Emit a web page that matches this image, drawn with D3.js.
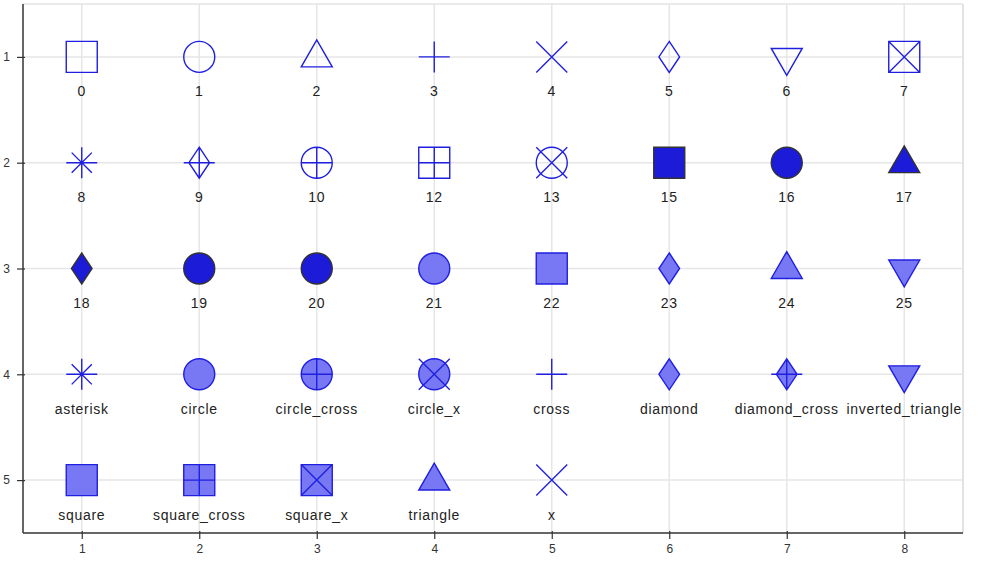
<!DOCTYPE html>
<html>
<head>
<meta charset="utf-8">
<script src="https://cdn.jsdelivr.net/npm/d3@7/dist/d3.min.js"></script>
<style>
  html, body { margin: 0; padding: 0; background: #fff; }
  svg { display: block; }
  text { font-family: "Liberation Sans", Arial, sans-serif; }
</style>
</head>
<body>
<svg id="chart" width="1000" height="562"></svg>
<script>
// ---- data ----
const labels = ["0","1","2","3","4","5","6","7",
                "8","9","10","12","13","15","16","17",
                "18","19","20","21","22","23","24","25",
                "asterisk","circle","circle_cross","circle_x","cross","diamond","diamond_cross","inverted_triangle",
                "square","square_cross","square_x","triangle","x"];
const shapes = ["square","circle","triangle","cross","x","diamond","inverted_triangle","square_x",
                "asterisk","diamond_cross","circle_cross","square_cross","circle_x","square","circle","triangle",
                "diamond","circle","circle","circle","square","diamond","triangle","inverted_triangle",
                "asterisk","circle","circle_cross","circle_x","cross","diamond","diamond_cross","inverted_triangle",
                "square","square_cross","square_x","triangle","x"];
const groups = ["open","open","open","open","open","open","open","open",
                "open","open","open","open","open","solid","solid","solid",
                "solid","solid","solid","filled","filled","filled","filled","filled",
                "filled","filled","filled","filled","filled","filled","filled","filled",
                "filled","filled","filled","filled","filled"];
const xValues = [1,2,3,4,5,6,7,8, 1,2,3,4,5,6,7,8, 1,2,3,4,5,6,7,8, 1,2,3,4,5,6,7,8, 1,2,3,4,5];
const yValues = [1,1,1,1,1,1,1,1, 2,2,2,2,2,2,2,2, 3,3,3,3,3,3,3,3, 4,4,4,4,4,4,4,4, 5,5,5,5,5];
const xTicks = [1,2,3,4,5,6,7,8];
const yTicks = [1,2,3,4,5];

// ---- styles ----
const style = {
  open:   {fill: "none",    stroke: "#1f1fe0"},
  solid:  {fill: "#1b1bd8", stroke: "#333333"},
  filled: {fill: "#7878f5", stroke: "#1f1fe0"}
};
const R = 15.5;

const svg = d3.select("#chart");
const x = d3.scaleLinear().domain([0.5, 8.5]).range([23, 963]);
const y = d3.scaleLinear().domain([0.5, 5.5]).range([4, 533]);

// grid
const grid = svg.append("g");
grid.selectAll("line.gx").data(xTicks).join("line")
  .attr("x1", d => x(d)).attr("x2", d => x(d))
  .attr("y1", y.range()[0]).attr("y2", y.range()[1])
  .attr("stroke", "#e6e6e6").attr("stroke-width", 1.5);
grid.selectAll("line.gy").data(yTicks).join("line")
  .attr("y1", d => y(d)).attr("y2", d => y(d))
  .attr("x1", x.range()[0]).attr("x2", x.range()[1])
  .attr("stroke", "#e6e6e6").attr("stroke-width", 1.5);
// top and right border
grid.append("line").attr("x1", x.range()[0]).attr("x2", x.range()[1])
  .attr("y1", y.range()[0]).attr("y2", y.range()[0])
  .attr("stroke", "#e3e3e3").attr("stroke-width", 1.5);
grid.append("line").attr("x1", x.range()[1]).attr("x2", x.range()[1])
  .attr("y1", y.range()[0]).attr("y2", y.range()[1])
  .attr("stroke", "#e3e3e3").attr("stroke-width", 2);

// axes
const xAxis = svg.append("g").attr("transform", `translate(0,${y.range()[1]})`)
  .call(d3.axisBottom(x).tickValues(xTicks).tickFormat(d3.format("d")).tickSize(6).tickPadding(5).tickSizeOuter(0));
xAxis.selectAll(".tick line").attr("y1", -2).attr("y2", 6);
const yAxis = svg.append("g").attr("transform", `translate(${x.range()[0]},0)`)
  .call(d3.axisLeft(y).tickValues(yTicks).tickFormat(d3.format("d")).tickSize(6).tickPadding(7).tickSizeOuter(0));
yAxis.selectAll(".tick line").attr("x1", 2).attr("x2", -6);
[xAxis, yAxis].forEach(a => {
  a.select(".domain").attr("stroke", "#333").attr("stroke-width", 1.5);
  a.selectAll(".tick line").attr("stroke", "#333").attr("stroke-width", 1.2);
  a.selectAll(".tick text").attr("fill", "#333")
    .style("font-family", '"Liberation Sans", Arial, sans-serif').style("font-size", "12px");
});
xAxis.select(".domain").attr("d", `M${x.range()[0]},0H${x.range()[1]}`);
yAxis.select(".domain").attr("d", `M0,${y.range()[0]}V${y.range()[1]}`);

// marker geometry
function markerPath(shape) {
  const p = d3.path();
  const r = R, h = r * Math.sqrt(3), dw = r / 1.5, r2 = r * 0.65;
  const sq = () => { p.rect(-r, -r, 2 * r, 2 * r); };
  const ci = () => { p.moveTo(r, 0); p.arc(0, 0, r, 0, 2 * Math.PI); p.closePath(); };
  const di = () => { p.moveTo(0, -r); p.lineTo(dw, 0); p.lineTo(0, r); p.lineTo(-dw, 0); p.closePath(); };
  const plus = (w) => { p.moveTo(-w, 0); p.lineTo(w, 0); p.moveTo(0, -r); p.lineTo(0, r); };
  const ex = (w) => { p.moveTo(-w, -w); p.lineTo(w, w); p.moveTo(-w, w); p.lineTo(w, -w); };
  switch (shape) {
    case "square": sq(); break;
    case "circle": ci(); break;
    case "triangle": p.moveTo(-r, h / 3 + 1); p.lineTo(r, h / 3 + 1); p.lineTo(0, -2 * h / 3 + 1); p.closePath(); break;
    case "inverted_triangle": p.moveTo(-r, -h / 3 + 0.5); p.lineTo(r, -h / 3 + 0.5); p.lineTo(0, 2 * h / 3 + 0.5); p.closePath(); break;
    case "diamond": di(); break;
    case "cross": plus(r); break;
    case "x": ex(r); break;
    case "asterisk": plus(r); ex(r2); break;
    case "square_x": sq(); ex(r); break;
    case "square_cross": sq(); plus(r); break;
    case "circle_cross": ci(); plus(r); break;
    case "circle_x": ci(); ex(r); break;
    case "diamond_cross": di(); plus(r); break;
  }
  return p.toString();
}

const data = labels.map((l, i) => ({label: l, shape: shapes[i], group: groups[i], xv: xValues[i], yv: yValues[i]}));

const marks = svg.append("g").selectAll("g.mark").data(data).join("g")
  .attr("class", "mark")
  .attr("transform", d => `translate(${x(d.xv)},${y(d.yv)})`);

marks.append("path")
  .attr("d", d => markerPath(d.shape))
  .attr("fill", d => (d.shape === "cross" || d.shape === "x" || d.shape === "asterisk") ? "none" : style[d.group].fill)
  .attr("stroke", d => style[d.group].stroke)
  .attr("stroke-width", 1.4);

marks.append("text")
  .attr("x", 0).attr("y", 39.5)
  .attr("text-anchor", "middle")
  .attr("fill", "#222")
  .style("font-size", "14px")
  .style("letter-spacing", "0.7px")
  .text(d => d.label);
</script>
</body>
</html>
